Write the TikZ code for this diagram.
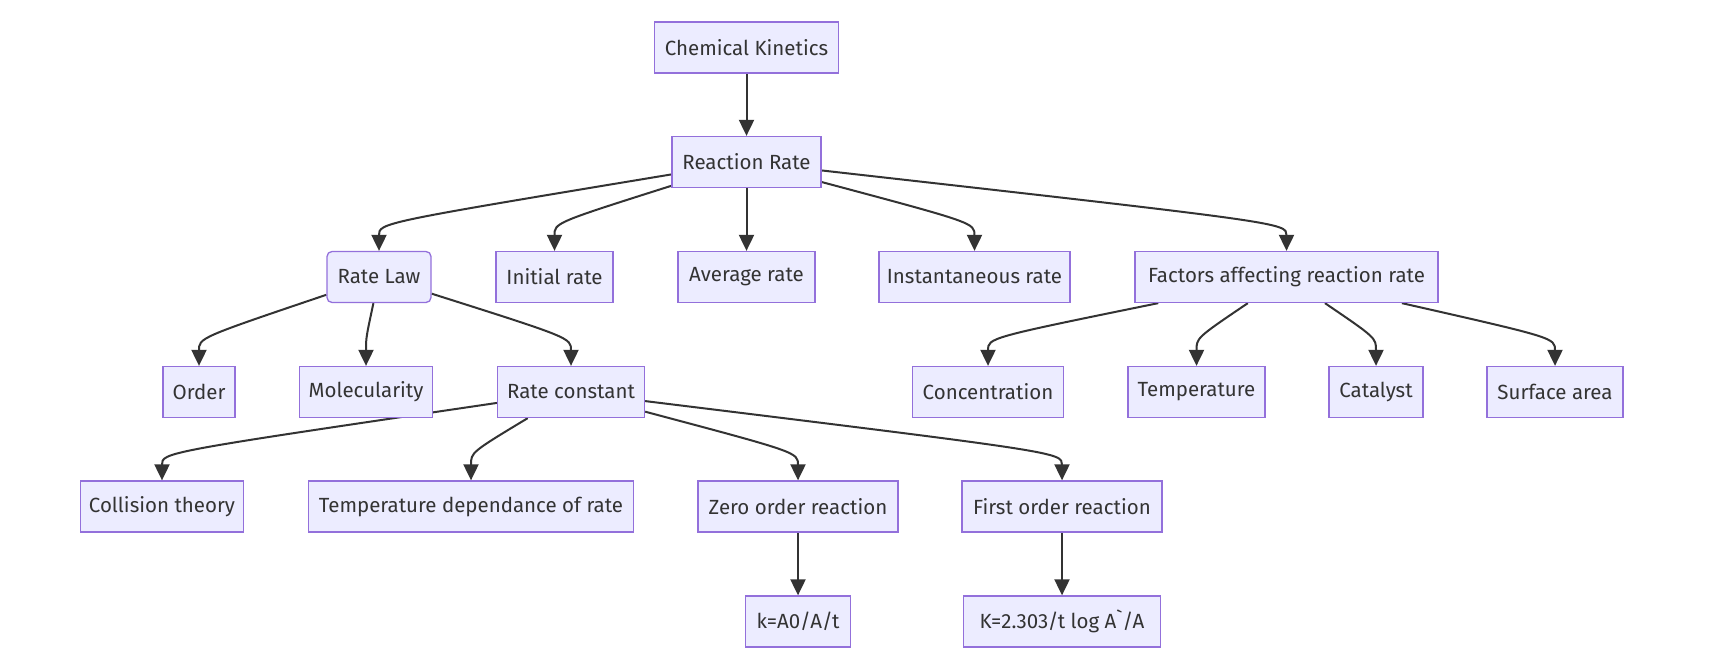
\documentclass[tikz,border=0pt]{standalone}
\usepackage{fontspec}
\setmainfont{Fira Sans}[Ligatures=TeXOff]
\usetikzlibrary{arrows.meta,calc}
\pgfdeclarelayer{bg}
\pgfsetlayers{bg,main}
\definecolor{nodefill}{HTML}{ECECFF}
\definecolor{nodeline}{HTML}{9370DB}
\definecolor{edgecol}{HTML}{333333}
\newcommand\edgeto[2]{\draw[arr] (#1) .. controls ($(#2.north)+(0,-28)$) .. (#2);}
\begin{document}
\begin{tikzpicture}[x=1pt,y=-1pt,
  box/.style={draw=nodeline, fill=nodefill, line width=1.3pt, minimum height=51pt,
    inner sep=0pt, font=\fontsize{20.5}{24}\selectfont, text=edgecol},
  arr/.style={draw=edgecol, line width=2pt, -{Triangle[length=16pt,width=15pt]}}]
\useasboundingbox (0,0) rectangle (1723,656);
\node[box, minimum width=184pt] (ck) at (746.5,47.5) {Chemical Kinetics};
\node[box, minimum width=149pt] (rr) at (746.5,162) {Reaction Rate};
\node[box, minimum width=104pt, rounded corners=5pt] (rl) at (379,277) {Rate Law};
\node[box, minimum width=117pt] (ir) at (554.5,277) {Initial rate};
\node[box, minimum width=137pt] (ar) at (746.5,277) {Average rate};
\node[box, minimum width=191pt] (inst) at (974.5,277) {Instantaneous rate};
\node[box, minimum width=303pt] (fac) at (1286.5,277) {Factors affecting reaction rate};
\node[box, minimum width=72pt] (ord) at (199,392) {Order};
\node[box, minimum width=133.5pt] (mol) at (366,392) {Molecularity};
\node[box, minimum width=147pt] (rc) at (571,392) {Rate constant};
\node[box, minimum width=150.5pt] (conc) at (988,392) {Concentration};
\node[box, minimum width=137pt] (temp) at (1196.5,392) {Temperature};
\node[box, minimum width=94pt] (cat) at (1376,392) {Catalyst};
\node[box, minimum width=136pt] (sa) at (1555,392) {Surface area};
\node[box, minimum width=163.5pt] (col) at (162,506.5) {Collision theory};
\node[box, minimum width=324.6pt] (tdep) at (471,506.5) {Temperature dependance of rate};
\node[box, minimum width=200pt] (zero) at (798,506.5) {Zero order reaction};
\node[box, minimum width=200pt] (first) at (1062,506.5) {First order reaction};
\node[box, minimum width=105.5pt] (kz) at (798,621.5) {k=A0/A/t};
\node[box, minimum width=197.6pt] (kf) at (1062,621.5) {K=2.303/t log A\symbol{96}/A};
\begin{pgfonlayer}{bg}
\edgeto{ck}{rr}
\edgeto{rr}{rl}
\edgeto{rr}{ir}
\edgeto{rr}{ar}
\edgeto{rr}{inst}
\edgeto{rr}{fac}
\edgeto{rl}{ord}
\edgeto{rl}{mol}
\edgeto{rl}{rc}
\edgeto{rc}{col}
\edgeto{rc}{tdep}
\edgeto{rc}{zero}
\edgeto{rc}{first}
\edgeto{fac}{conc}
\edgeto{fac}{temp}
\edgeto{fac}{cat}
\edgeto{fac}{sa}
\edgeto{zero}{kz}
\edgeto{first}{kf}
\end{pgfonlayer}
\end{tikzpicture}
\end{document}
